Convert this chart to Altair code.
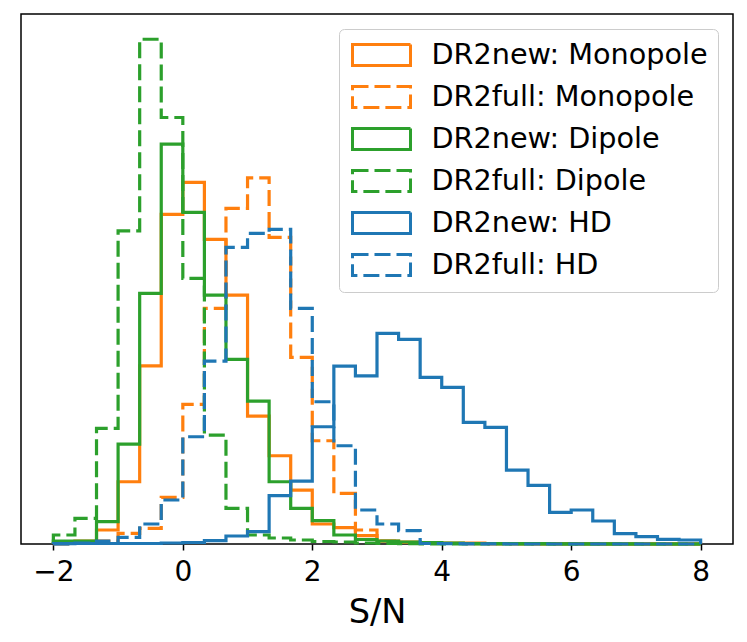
import altair as alt
import pandas as pd

# histogram bins: 30 bins from -2 to 8
bin_start = -2.0
bin_width = 1.0 / 3.0
n_bins = 30

series = ["DR2new: Monopole", "DR2full: Monopole", "DR2new: Dipole",
          "DR2full: Dipole", "DR2new: HD", "DR2full: HD"]
colors = ["#ff7f0e", "#ff7f0e", "#2ca02c", "#2ca02c", "#1f77b4", "#1f77b4"]
dashes = [[1, 0], [16, 6], [1, 0], [16, 6], [1, 0], [16, 6]]

new_mono = [0.5, 3, 14, 62.3, 178.3, 329.7, 361.7, 304.7, 249, 128,
            88.3, 54, 20, 16.3, 8.3, 3, 2, 1.5, 1, 1,
            0.5, 0.5, 0.4, 0.3, 0.3, 0.2, 0.2, 0.1, 0.1, 0.1]
full_mono = [0, 0.5, 3, 10.7, 15.7, 46.7, 139.7, 235.7, 335.7, 366.3,
             306.7, 186.7, 103.3, 50.7, 14, 3, 1.5, 1, 0.5, 0.3,
             0.2, 0.1, 0, 0, 0, 0, 0, 0, 0, 0]
new_dip = [3, 3, 22.3, 100, 250.7, 400, 331.7, 249, 184.7, 143,
           62.3, 35.7, 23.3, 9, 4.5, 3, 2, 1.5, 1, 0.5,
           0.5, 0.3, 0.3, 0.2, 0.1, 0.1, 0.1, 0, 0, 0]
full_dip = [9, 25.7, 115.7, 313.3, 505, 426.7, 265.7, 109, 35.7, 9,
            6, 4, 2.5, 2, 1, 0.5, 0.3, 0.2, 0.1, 0,
            0, 0, 0, 0, 0, 0, 0, 0, 0, 0]
new_hd = [0.3, 0.5, 0.5, 0.5, 0.5, 1, 1.5, 3.3, 8, 12.3,
          48.3, 63, 117.3, 178, 168.3, 210.7, 204.7, 166.7, 156.7, 121.7,
          116.7, 74, 58.7, 31.7, 34, 23, 10.3, 7.3, 4.7, 4]
full_hd = [0, 1, 3, 6.7, 20, 44, 107.3, 183, 296.7, 310.7,
           314.7, 235.7, 142.3, 98.3, 34, 20, 13.3, 0.5, 0.3, 0.2,
           0.1, 0, 0, 0, 0, 0, 0, 0, 0, 0]

counts = [new_mono, full_mono, new_dip, full_dip, new_hd, full_hd]
x_ticks = [-2, 0, 2, 4, 6, 8]

rows = []
for name, vals in zip(series, counts):
    edges = [bin_start + k * bin_width for k in range(n_bins + 1)]
    pts = [(edges[0], 0.0)]
    pts += [(edges[k], vals[k]) for k in range(n_bins)]
    pts += [(edges[n_bins], vals[-1]), (edges[n_bins], 0.0)]
    for i, (xv, yv) in enumerate(pts):
        rows.append({"series": name, "x": xv, "y": yv, "order": i})
df = pd.DataFrame(rows)

ymax = max(max(v) for v in counts) * 1.05

legend = alt.Legend(
    title=None,
    orient="top-right",
    offset=15,
    padding=10,
    strokeColor="#cccccc",
    cornerRadius=5,
    fillColor="white",
    symbolType="M-2,-0.72H2V0.72H-2Z",
    symbolSize=841,
    symbolStrokeWidth=3,
    symbolOffset=16.5,
    symbolFillColor="transparent",
    labelOffset=34,
    labelFontSize=28.7,
    labelColor="black",
    labelFont="DejaVu Sans",
    labelLimit=600,
    rowPadding=8,
)

chart = alt.Chart(df).mark_line(interpolate="step-after", strokeWidth=3.2).encode(
    x=alt.X("x:Q",
            scale=alt.Scale(domain=[-2.5, 8.5], nice=False, zero=False),
            axis=alt.Axis(values=x_ticks, title="S/N", grid=False, domain=False,
                          tickColor="black", tickWidth=1.5, tickSize=6,
                          labelFontSize=28, labelColor="black", labelPadding=8,
                          labelFont="DejaVu Sans",
                          titleFontSize=33.6, titleFontWeight="normal",
                          titleColor="black", titlePadding=9,
                          titleFont="DejaVu Sans")),
    y=alt.Y("y:Q", scale=alt.Scale(domain=[0, ymax], nice=False), axis=None),
    color=alt.Color("series:N", scale=alt.Scale(domain=series, range=colors),
                    sort=series, legend=legend),
    strokeDash=alt.StrokeDash("series:N", scale=alt.Scale(domain=series, range=dashes),
                              sort=series, legend=legend),
    order=alt.Order("order:Q"),
).properties(
    width=712,
    height=530,
    autosize=alt.AutoSizeParams(type="none"),
    padding={"left": 13, "top": 6, "right": 6, "bottom": 96},
).configure(
    font="DejaVu Sans"
).configure_view(
    stroke="black", strokeWidth=1.5
)

chart.save("out.html", embed_options={"renderer": "svg", "actions": False})
